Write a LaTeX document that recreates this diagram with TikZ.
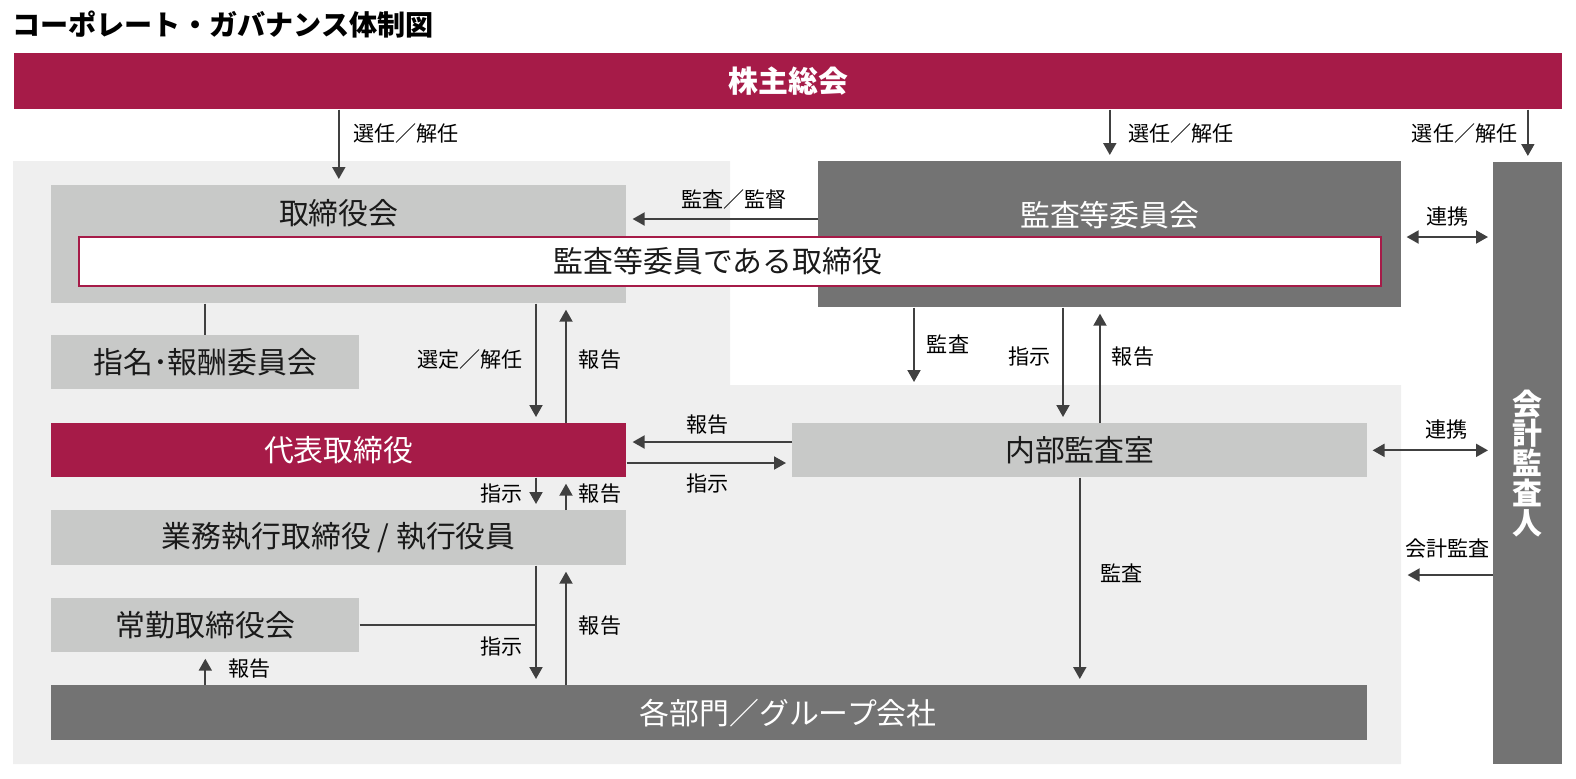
\documentclass[tikz,border=0pt]{standalone}
\usepackage{fontspec}
\setmainfont{Noto Sans CJK JP}
\usetikzlibrary{positioning, arrows.meta, calc}

\definecolor{crimson}{RGB}{166,27,72}
\definecolor{boxdark}{RGB}{115,115,115}
\definecolor{boxlight}{RGB}{200,201,200}
\definecolor{bggray}{RGB}{239,239,239}
\definecolor{linegray}{RGB}{64,64,64}
\definecolor{textdark}{RGB}{26,26,26}

\begin{document}
\begin{tikzpicture}[
            x=0.02cm, y=-0.02cm,
            >={Triangle[length=0.24cm, width=0.26cm]},
            box/.style={rectangle, anchor=north west, inner sep=0pt,
                    font=\fontsize{17}{20}\selectfont},
            lbox/.style={box, fill=boxlight, text=textdark},
            dbox/.style={box, fill=boxdark, text=white},
            rbox/.style={box, fill=crimson, text=white},
            txt/.style={inner sep=0pt, font=\fontsize{17}{20}\selectfont},
            lbl/.style={inner sep=0pt, font=\fontsize{12}{14}\selectfont},
            arrow/.style={->, line width=1.1pt, draw=linegray, shorten >=0.12cm},
            link/.style={<->, line width=1.1pt, draw=linegray, shorten >=0.1cm, shorten <=0.1cm},
            conn/.style={line width=1.1pt, draw=linegray},
            ]

            \useasboundingbox (0,0) rectangle (1576,778);
            \fill[bggray] (13,161) -- (730,161) -- (730,385) -- (1401,385) -- (1401,764) -- (13,764) -- cycle;

            \node[anchor=west, inner sep=0pt, font=\bfseries\fontsize{16}{18}\selectfont] (title) at (12,25) {コーポレート・ガバナンス体制図};

            \node[rbox, minimum width=30.96cm, minimum height=1.12cm, font=\bfseries\fontsize{17}{20}\selectfont] (share) at (14,53) {株主総会};

            \node[lbox, minimum width=11.5cm, minimum height=2.36cm] (board) at (51,185) {};
            \node[txt, text=textdark] at ($(board.north)+(0,28)$) {取締役会};
            \node[dbox, minimum width=11.66cm, minimum height=2.92cm] (acb) at (818,161) {};
            \node[txt, text=white] at ($(acb.north)+(0,54)$) {監査等委員会};
            \node[box, fill=white, draw=crimson, line width=1.2pt, minimum width=26.04cm, minimum height=0.98cm] (acdir) at (78,236) {};
            \node[txt, text=textdark] at ($(acdir.center)+(-12,0)$) {監査等委員である取締役};

            \node[dbox, minimum width=1.38cm, minimum height=12.04cm, align=center,
                font=\bfseries\fontsize{17}{17}\selectfont] (auditor) at (1493,162) {会\\計\\監\\査\\人};

            \node[lbox, minimum width=6.16cm, minimum height=1.08cm] (nom) at (51,335) {指名･報酬委員会};
            \node[rbox, minimum width=11.5cm, minimum height=1.08cm] (rep) at (51,423) {代表取締役};
            \node[lbox, minimum width=11.5cm, minimum height=1.08cm] (iad) at (792,423) {内部監査室};
            \node[lbox, minimum width=11.5cm, minimum height=1.1cm] (exec) at (51,510) {業務執行取締役 / 執行役員};
            \node[lbox, minimum width=6.16cm, minimum height=1.08cm] (full) at (51,598) {常勤取締役会};
            \node[dbox, minimum width=26.32cm, minimum height=1.1cm] (dept) at (51,685) {};
            \node[txt, text=white] at (dept.center -| share.center) {各部門／グループ会社};

            \coordinate (dn) at (536,0);
            \coordinate (up) at (566,0);
            \coordinate (ins) at (1063,0);
            \coordinate (rpt) at (1100,0);
            \coordinate (acdn) at (914,388);
            \coordinate (sup) at (0,219);
            \coordinate (lk) at (0,237);
            \coordinate (rp) at (0,442);
            \coordinate (ix) at (0,463);
            \coordinate (ca) at (0,575);

            % shareholders
            \draw[arrow] (share.south -| board.north) -- node[lbl, right=0.27cm, pos=0.32] {選任／解任} (board.north);
            \draw[arrow] (share.south -| acb.north) -- node[lbl, right=0.35cm, pos=0.46] {選任／解任} (acb.north);
            \draw[arrow] (share.south -| auditor.north) -- node[lbl, left=0.19cm, pos=0.45] {選任／解任} (auditor.north);

            % audit committee
            \draw[arrow] (acb.west |- sup) -- node[lbl, above=0.18cm, pos=0.44] {監査／監督} (board.east |- sup);
            \draw[link] (acb.east |- lk) -- node[lbl, above=0.2cm] {連携} (auditor.west |- lk);
            \draw[arrow] (acb.south -| acdn) -- node[lbl, right=0.24cm, pos=0.46] {監査} (acdn);
            \draw[arrow] (acb.south -| ins) -- node[lbl, left=0.22cm, pos=0.42] {指示} (iad.north -| ins);
            \draw[arrow] (iad.north -| rpt) -- node[lbl, right=0.22cm, pos=0.58] {報告} (acb.south -| rpt);

            % board and executives
            \draw[conn] (board.south -| nom.north) -- (nom.north);
            \draw[arrow] (board.south -| dn) -- node[lbl, left=0.24cm, pos=0.47] {選定／解任} (rep.north -| dn);
            \draw[arrow] (rep.north -| up) -- node[lbl, right=0.24cm, pos=0.53] {報告} (board.south -| up);
            \draw[arrow] (iad.west |- rp) -- node[lbl, above=0.14cm, pos=0.51] {報告} (rep.east |- rp);
            \draw[arrow] (rep.east |- ix) -- node[lbl, below=0.2cm, pos=0.49] {指示} (iad.west |- ix);
            \draw[link] (iad.east) -- node[lbl, above=0.2cm, pos=0.63] {連携} (auditor.west |- iad.east);
            \draw[arrow] (rep.south -| dn) -- node[lbl, left=0.24cm] {指示} (exec.north -| dn);
            \draw[arrow] (exec.north -| up) -- node[lbl, right=0.24cm] {報告} (rep.south -| up);

            % departments
            \draw[conn] (full.east) -- (full.east -| dn);
            \draw[arrow] (exec.south -| dn) -- node[lbl, left=0.24cm, pos=0.68] {指示} (dept.north -| dn);
            \draw[arrow] (dept.north -| up) -- node[lbl, right=0.24cm, pos=0.5] {報告} (exec.south -| up);
            \draw[arrow] (dept.north -| full.south) -- node[lbl, right=0.44cm] {報告} (full.south);
            \draw[arrow] (iad.south) -- node[lbl, right=0.4cm, pos=0.46] {監査} (dept.north -| iad.south);
            \draw[arrow] (auditor.west |- ca) -- node[lbl, above=0.32cm] {会計監査} (acb.east |- ca);

        \end{tikzpicture}
\end{document}
